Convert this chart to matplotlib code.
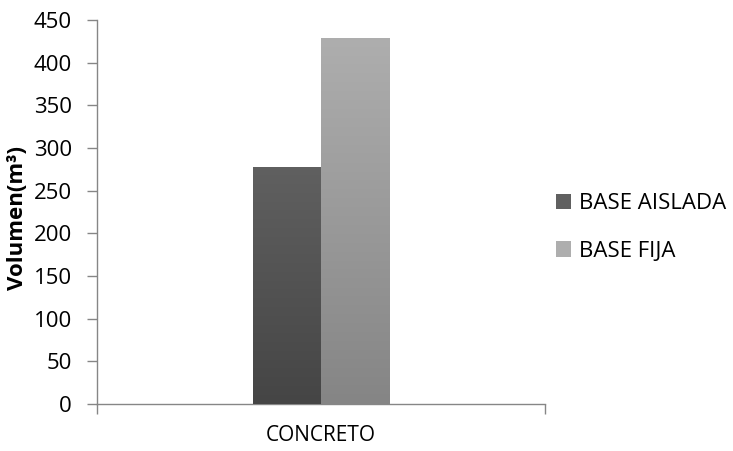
import numpy as np
import matplotlib
matplotlib.use("Agg")
import matplotlib.pyplot as plt
from matplotlib.colors import LinearSegmentedColormap
from matplotlib.patches import Patch

categories = ["CONCRETO"]
series = ["BASE AISLADA", "BASE FIJA"]
values = [278, 429]
top_colors = ["#606060", "#aeaeae"]
bottom_colors = ["#454545", "#858585"]

plt.rcParams['font.family'] = ['Open Sans', 'DejaVu Sans']

fig = plt.figure(figsize=(7.33, 4.51), dpi=100)
ax = fig.add_axes([0.1323, 0.1042, 0.6112, 0.8515])

w = 0.152
x = np.arange(len(categories))
grad = np.linspace(0, 1, 256).reshape(-1, 1)
handles = []
for i, (name, v) in enumerate(zip(series, values)):
    off = (i - 0.5) * w
    bars = ax.bar(x + off, [v], width=w, color=top_colors[i], zorder=2)
    cmap = LinearSegmentedColormap.from_list("g%d" % i, [bottom_colors[i], top_colors[i]])
    for b in bars:
        im = ax.imshow(grad, cmap=cmap, aspect='auto', origin='lower',
                       extent=[b.get_x(), b.get_x() + b.get_width(), 0, b.get_height()],
                       zorder=3)
        im.set_clip_path(b)
    handles.append(Patch(facecolor=top_colors[i], edgecolor='none', label=name))

ax.set_xlim(-0.5, 0.5)
ax.set_ylim(0, 450)
ax.set_yticks(np.arange(0, 451, 50))
ax.set_xticks(x)
ax.set_xticklabels(categories)
ax.set_xticks([-0.5, 0.5], minor=True)
ax.tick_params(axis='x', which='major', length=0, labelsize=15, pad=15)
ax.tick_params(axis='x', which='minor', length=7, color='#868686', width=1)
ax.tick_params(axis='y', length=7, color='#868686', width=1, labelsize=16, pad=11)

for s in ['top', 'right']:
    ax.spines[s].set_visible(False)
for s in ['left', 'bottom']:
    ax.spines[s].set_color('#868686')
    ax.spines[s].set_linewidth(1)

fig.text(18 / 733, 1 - 218 / 451, "Volumen(m³)", rotation=90, fontsize=16,
         fontweight='bold', ha='center', va='center')

fig.legend(handles=handles, loc='center left', bbox_to_anchor=(0.731, 0.4956),
           frameon=False, fontsize=16, handlelength=0.68, handleheight=0.68,
           handletextpad=0.36, labelspacing=1.2)

fig.savefig("out.png", dpi=100)
